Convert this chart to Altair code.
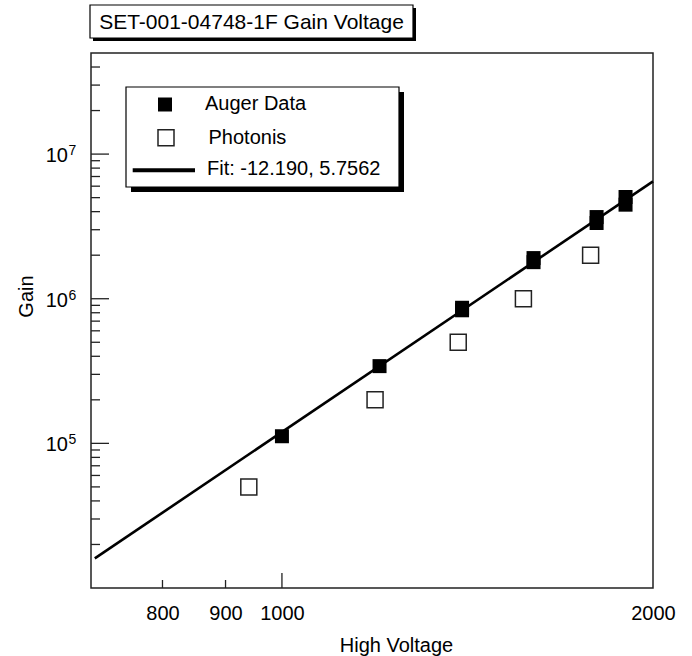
import altair as alt
import numpy as np
import pandas as pd

# Measured gain of the tube (Auger test stand) and the manufacturer's values
auger_hv = [1000, 1200, 1400, 1400, 1600, 1600, 1800, 1800, 1900, 1900]
auger_gain = [1.12e5, 3.42e5, 8.66e5, 8.32e5, 1.91e6, 1.79e6, 3.67e6, 3.34e6, 5.05e6, 4.47e6]
photonis_hv = [940, 1190, 1390, 1570, 1780]
photonis_gain = [5e4, 2e5, 5e5, 1e6, 2e6]

# Power-law fit: log10(gain) = intercept + slope * log10(HV)
fit_intercept = -12.190
fit_slope = 5.7562
fit_hv_ends = [705, 2000]

title_text = "SET-001-04748-1F Gain Voltage"
series_labels = ["Auger Data", "Photonis", f"Fit: {fit_intercept:.3f}, {fit_slope:.4f}"]

x_label_values = [800, 900, 1000, 2000]
x_minor_ticks = [800, 900]
x_major_ticks = [1000]
y_major_ticks = [1e5, 1e6, 1e7]
y_exponents = ["5", "6", "7"]
y_minor_ticks = [m * 10.0 ** e for e in (4, 5, 6) for m in range(2, 10)] + [2e7, 3e7, 4e7]

FONT = "Liberation Sans"
W, H = 562, 535

xscale = alt.Scale(type="log", domain=[700, 2000], nice=False)
yscale = alt.Scale(type="log", domain=[1e4, 5e7], nice=False)

auger = pd.DataFrame({"hv": auger_hv, "gain": auger_gain})
photonis = pd.DataFrame({"hv": photonis_hv, "gain": photonis_gain})
fit = pd.DataFrame({"hv": fit_hv_ends})
fit["gain"] = 10 ** (fit_intercept + fit_slope * np.log10(fit["hv"]))

x_axis = alt.Axis(
    values=x_label_values, format="d", ticks=False, domain=False, grid=False,
    labelFontSize=20, labelPadding=15, labelFlush=False, labelOverlap=False,
    labelColor="black", title="High Voltage", titleFontSize=20,
    titleFontWeight="normal", titleColor="black", titleX=305, titleY=63,
    titleAlign="center", titleBaseline="alphabetic",
)
y_axis = alt.Axis(
    labels=False, ticks=False, domain=False, grid=False, title="Gain",
    titleFontSize=20, titleFontWeight="normal", titleColor="black",
    titleAngle=270, titleX=-59, titleY=243, titleAlign="center",
    titleBaseline="alphabetic",
)

# every layer that uses the x or y scale carries the same axis definition
X = alt.X("hv:Q", scale=xscale, axis=x_axis, title="High Voltage")
Y = alt.Y("gain:Q", scale=yscale, axis=y_axis, title="Gain")
Xt = alt.X("hv:Q", scale=xscale, axis=x_axis, title="High Voltage")
Yt = alt.Y("gain:Q", scale=yscale, axis=y_axis, title="Gain")

fit_line = alt.Chart(fit).mark_line(color="black", strokeWidth=2.6).encode(x=X, y=Y)
photonis_pts = alt.Chart(photonis).mark_point(
    shape="square", filled=False, size=256, stroke="#222", strokeWidth=1.5, opacity=1
).encode(x=X, y=Y)
auger_pts = alt.Chart(auger).mark_point(
    shape="square", filled=True, size=196, color="black", opacity=1
).encode(x=X, y=Y)

# inward ticks on the left edge
ymaj = pd.DataFrame({"gain": y_major_ticks, "exp": y_exponents})
ymin = pd.DataFrame({"gain": y_minor_ticks})
y_major_rules = alt.Chart(ymaj).mark_rule(color="#222", strokeWidth=1.3).encode(
    y=Yt, x=alt.value(0), x2=alt.value(18))
y_minor_rules = alt.Chart(ymin).mark_rule(color="#222", strokeWidth=1.3).encode(
    y=Yt, x=alt.value(0), x2=alt.value(9))
y_base_labels = alt.Chart(ymaj).mark_text(
    fontSize=20, align="right", baseline="alphabetic", dy=8, color="black"
).encode(y=Yt, x=alt.value(-23), text=alt.value("10"))
y_exp_labels = alt.Chart(ymaj).mark_text(
    fontSize=14, align="left", baseline="alphabetic", dy=1, color="black"
).encode(y=Yt, x=alt.value(-22.5), text="exp:N")

# inward ticks on the bottom edge
x_minor_rules = alt.Chart(pd.DataFrame({"hv": x_minor_ticks})).mark_rule(
    color="#222", strokeWidth=1.3).encode(x=Xt, y=alt.value(H), y2=alt.value(H - 8))
x_major_rules = alt.Chart(pd.DataFrame({"hv": x_major_ticks})).mark_rule(
    color="#222", strokeWidth=1.3).encode(x=Xt, y=alt.value(H), y2=alt.value(H - 15))

one = pd.DataFrame({"k": [0]})


def box(x1, x2, y1, y2, **style):
    return alt.Chart(one).mark_rect(**style).encode(
        x=alt.value(x1), x2=alt.value(x2), y=alt.value(y1), y2=alt.value(y2))


def label(text, x, y, align="left", size=20):
    return alt.Chart(one).mark_text(
        fontSize=size, align=align, baseline="middle", color="black"
    ).encode(x=alt.value(x), y=alt.value(y), text=alt.value(text))


# boxed title with drop shadow
title_shadow = box(2, 325, -45, -12, color="black")
title_box = box(-1, 322, -48, -15, fill="white", stroke="black", strokeWidth=1.2)
title_label = label(title_text, 160.5, -30.5, align="center", size=21)

# legend with drop shadow
legend_shadow = box(40, 313, 39, 139, color="black")
legend_box = box(35, 308, 34, 134, fill="white", stroke="black", strokeWidth=1.2)
legend_filled = alt.Chart(one).mark_point(
    shape="square", filled=True, size=196, color="black", opacity=1
).encode(x=alt.value(74), y=alt.value(51.5))
legend_open = alt.Chart(one).mark_point(
    shape="square", filled=False, size=256, stroke="#222", strokeWidth=1.5, opacity=1
).encode(x=alt.value(75), y=alt.value(84.8))
legend_line = alt.Chart(one).mark_rule(color="black", strokeWidth=4).encode(
    x=alt.value(41.7), x2=alt.value(104), y=alt.value(117.3))
legend_t1 = label(series_labels[0], 114, 50.5)
legend_t2 = label(series_labels[1], 117.5, 84.7)
legend_t3 = label(series_labels[2], 116, 115.5)

chart = alt.layer(
    fit_line, photonis_pts, auger_pts,
    y_major_rules, y_minor_rules, y_base_labels, y_exp_labels,
    x_minor_rules, x_major_rules,
    title_shadow, title_box, title_label,
    legend_shadow, legend_box, legend_filled, legend_open, legend_line,
    legend_t1, legend_t2, legend_t3,
).properties(
    width=W, height=H,
    padding={"left": 91, "top": 53, "right": 39, "bottom": 68},
    autosize=alt.AutoSizeParams(type="none"),
).configure(
    font=FONT, background="white"
).configure_view(
    stroke="#222", strokeWidth=1.5
)

chart.save("out.html", embed_options={"renderer": "svg", "actions": False})
